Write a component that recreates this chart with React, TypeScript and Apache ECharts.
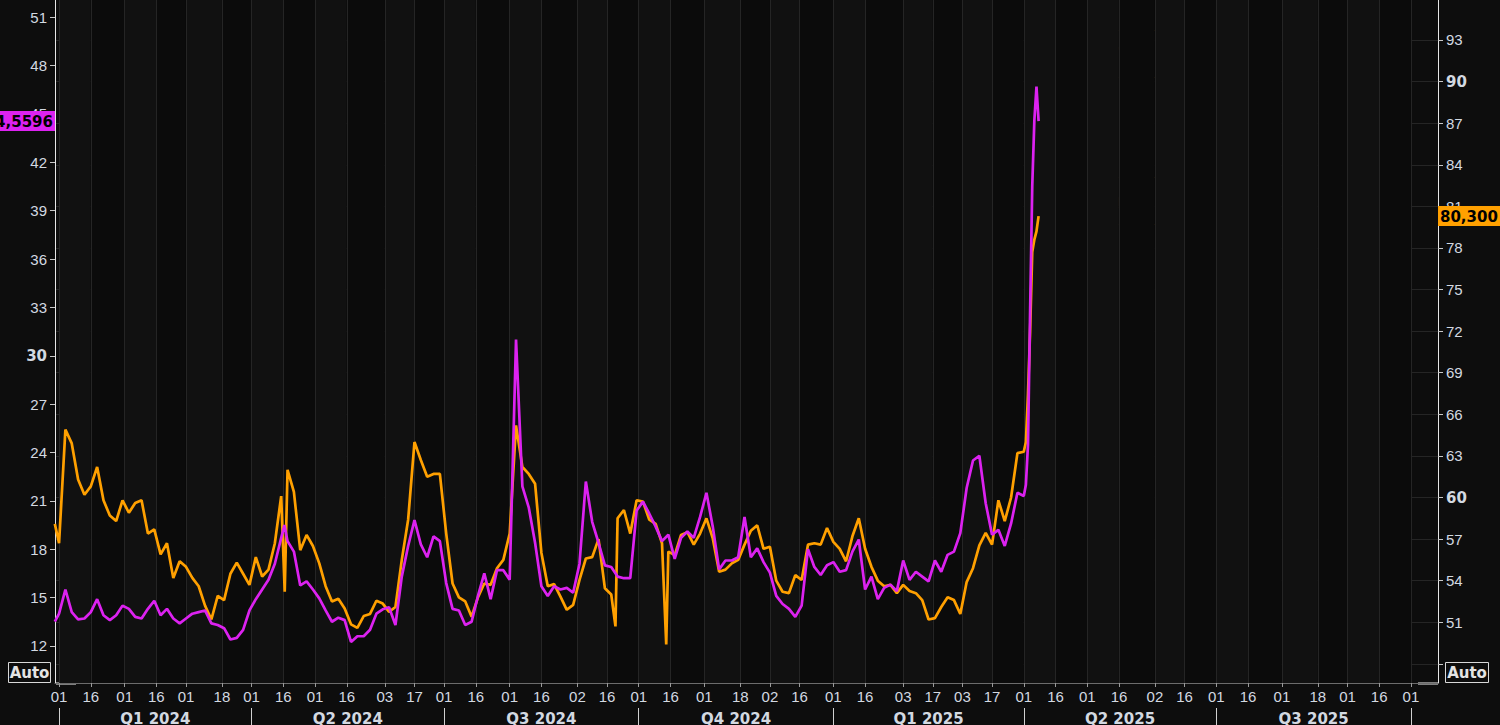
import React, { useEffect, useRef } from "react";
import * as echarts from "echarts";

// ---------- data ----------
const START_DATE = "2024-01-01";
const STEP_DAYS = 3;

// iTraxx main (right axis), one reading every STEP_DAYS from START_DATE
const itraxxMain = [
  56.7, 64.9, 63.9, 61.3, 60.2, 60.8, 62.2, 59.8, 58.7, 58.3,
  59.8, 58.9, 59.6, 59.8, 57.4, 57.7, 55.9, 56.7, 54.2, 55.4,
  55.0, 54.2, 53.6, 52.2, 51.2, 52.9, 52.6, 54.5, 55.3, 54.5,
  53.7, 55.7, 54.3, 54.8, 56.7, 60.1, 62.0, 60.4, 56.2, 57.3,
  56.5, 55.25, 53.6, 52.5, 52.7, 52.0, 50.85, 50.6, 51.45, 51.6,
  52.55, 52.35, 51.75, 52.1, 55.5, 58.4, 64.0, 62.7, 61.5, 61.7,
  61.7, 57.4, 53.8, 52.8, 52.5, 51.4, 52.8, 53.8, 53.7, 54.9,
  55.5, 57.4, 65.2, 62.2, 61.7, 61.0, 56.0, 53.6, 53.75, 52.85,
  51.9, 52.25, 54.05, 55.6, 55.7, 57.0, 53.45, 53.0, 58.5, 59.1,
  57.4, 59.8, 59.7, 58.4, 58.1, 56.7, 56.1, 55.85, 57.3, 57.5,
  56.6, 57.4, 58.5, 57.05, 54.65, 54.8, 55.25, 55.5, 56.6, 57.6,
  58.0, 56.3, 56.45, 54.0, 53.2, 53.1, 54.4, 54.05, 56.6, 56.7,
  56.6, 57.8, 56.8, 56.3, 55.4, 57.2, 58.5, 56.3, 55.0, 54.0,
  53.6, 53.7, 53.1, 53.7, 53.25, 53.1, 52.6, 51.2, 51.3, 52.1,
  52.8, 52.6, 51.6, 53.9, 54.9, 56.55, 57.45, 56.6, 59.8, 58.3,
  60.0, 63.2, 63.3,
];

// V2X (left axis), same dates
const v2x = [
  14.0, 15.5, 14.1, 13.65, 13.7, 14.1, 14.9, 13.9, 13.6, 13.9,
  14.5, 14.3, 13.8, 13.7, 14.3, 14.8, 13.9, 14.3, 13.7, 13.4,
  13.7, 14.0, 14.1, 14.2, 13.4, 13.3, 13.1, 12.4, 12.5, 13.0,
  14.2, 14.9, 15.5, 16.1, 17.1, 18.7, 18.5, 17.85, 15.75, 16.0,
  15.5, 14.95, 14.2, 13.5, 13.75, 13.6, 12.25, 12.6, 12.6, 13.0,
  14.0, 14.27, 14.4, 13.3, 16.3, 18.2, 19.8, 18.3, 17.5, 18.8,
  18.5, 15.9, 14.3, 14.2, 13.3, 13.5, 15.1, 16.5, 14.9, 16.7,
  16.7, 16.1, 31.0, 21.9, 20.6, 18.4, 15.7, 15.1, 15.7, 15.5,
  15.6, 15.3, 17.1, 22.2, 19.7, 18.4, 17.0, 16.9, 16.3, 16.2,
  16.2, 20.4, 20.95, 20.2, 19.4, 18.5, 18.9, 17.4, 18.7, 19.1,
  18.7, 20.0, 21.5, 19.4, 16.75, 17.3, 17.3, 17.5, 20.0, 17.5,
  18.05, 17.2, 16.55, 15.1, 14.6, 14.3, 13.8, 14.5, 18.0, 16.9,
  16.4, 17.0, 17.2, 16.6, 16.7, 17.85, 18.6, 15.5, 16.3, 14.9,
  15.6, 15.8, 15.4, 17.3, 16.1, 16.6, 16.3, 16.0, 17.3, 16.6,
  17.65, 17.85, 19.0, 21.8, 23.5, 23.8, 20.85, 18.9, 19.2, 18.2,
  19.6, 21.5, 21.3,
];

// single-day readings off the regular step (spikes, start and final days)
const itraxxExtra: [string, number][] = [
  ["2023-12-30", 58.1],
  ["2024-04-16T16:00Z", 53.2],
  ["2024-09-20", 50.7],
  ["2024-10-14", 49.4],
  ["2025-04-02", 64.0],
  ["2025-04-03", 67.5],
  ["2025-04-04", 72.0],
  ["2025-04-05", 77.7],
  ["2025-04-06", 78.6],
  ["2025-04-07", 79.2],
  ["2025-04-08", 80.3],
];
const v2xExtra: [string, number][] = [
  ["2023-12-30", 13.5],
  ["2024-04-16T12:00Z", 19.5],
  ["2025-04-02", 22.0],
  ["2025-04-03", 24.5],
  ["2025-04-04", 32.8],
  ["2025-04-05", 40.5],
  ["2025-04-06", 44.6],
  ["2025-04-07", 46.7],
  ["2025-04-08", 44.5596],
];

const V2X_LAST = 44.5596;
const ITRAXX_LAST = 80.3;

const dayTicks = [
  "2024-01-01", "2024-01-16", "2024-02-01", "2024-02-16", "2024-03-01", "2024-03-18",
  "2024-04-01", "2024-04-16", "2024-05-01", "2024-05-16", "2024-06-03", "2024-06-17",
  "2024-07-01", "2024-07-16", "2024-08-01", "2024-08-16", "2024-09-02", "2024-09-16",
  "2024-10-01", "2024-10-16", "2024-11-01", "2024-11-18", "2024-12-02", "2024-12-16",
  "2025-01-01", "2025-01-16", "2025-02-03", "2025-02-17", "2025-03-03", "2025-03-17",
  "2025-04-01", "2025-04-16", "2025-05-01", "2025-05-16", "2025-06-02", "2025-06-16",
  "2025-07-01", "2025-07-16", "2025-08-01", "2025-08-18", "2025-09-01", "2025-09-16",
  "2025-10-01",
];
const quarterStarts = [
  "2024-01-01", "2024-04-01", "2024-07-01", "2024-10-01",
  "2025-01-01", "2025-04-01", "2025-07-01", "2025-10-01",
];
const quarterNames = ["Q1 2024", "Q2 2024", "Q3 2024", "Q4 2024", "Q1 2025", "Q2 2025", "Q3 2025"];

const leftTicks = [12, 15, 18, 21, 24, 27, 30, 33, 36, 39, 42, 45, 48, 51];
const leftBold = [30];
const rightTicks = [48, 51, 54, 57, 60, 63, 66, 69, 72, 75, 78, 81, 84, 87, 90, 93];
const rightLabels = [51, 54, 57, 60, 63, 66, 69, 72, 75, 78, 81, 84, 87, 90, 93];
const rightBold = [60, 90];

const X_MIN = "2023-12-30T02:00Z";
const X_MAX = "2025-10-13T19:00Z";
const LEFT_MIN = 9.7;
const LEFT_MAX = 52.07;
const RIGHT_MIN = 46.62;
const RIGHT_MAX = 95.885;

// ---------- styles ----------
const BG = "#0d0d0d";
const ORANGE = "#ffa000";
const MAGENTA = "#dc22f0";
const TXT = "#d3d9e1";
const GRID = "#252525";
const FONT = "'Liberation Sans', Arial, sans-serif";
const BFONT = "'DejaVu Sans', Verdana, sans-serif";

const DAY = 86400000;

function build(grid: number[], extra: [string, number][]) {
  const t0 = Date.parse(START_DATE);
  const pts: [number, number][] = grid.map((v, i) => [t0 + i * STEP_DAYS * DAY, v]);
  extra.forEach(([d, v]) => pts.push([Date.parse(d), v]));
  pts.sort((a, b) => a[0] - b[0]);
  return pts;
}

function comma(v: number, digits: number) {
  return v.toFixed(digits).replace(".", ",");
}

function near(a: number, b: number) {
  return Math.abs(a - b) < 1e-6;
}

export default function App() {
  const ref = useRef<HTMLDivElement>(null);

  useEffect(() => {
    document.body.style.margin = "0";
    document.body.style.background = BG;
    const chart = echarts.init(ref.current!, null, { renderer: "svg" });

    const qStartsT = quarterStarts.map((d) => Date.parse(d));
    const qMids = quarterNames.map((_, i) => (qStartsT[i] + qStartsT[i + 1]) / 2);
    const dayTicksT = dayTicks.map((d) => Date.parse(d));
    const xMin = Date.parse(X_MIN);
    const xMax = Date.parse(X_MAX);

    const option: any = {
      animation: false,
      backgroundColor: BG,
      grid: { left: 55, right: 62, top: 0, bottom: 42, outerBoundsMode: "none", containLabel: false },
      xAxis: [
        {
          type: "value",
          min: xMin,
          max: xMax,
          position: "bottom",
          axisLine: { show: true, onZero: false, lineStyle: { color: "#6c6c6c", width: 1 } },
          axisTick: { show: true, customValues: dayTicksT, length: 4, lineStyle: { color: "#9a9a9a" } },
          axisLabel: {
            show: true,
            customValues: dayTicksT,
            margin: 6,
            color: TXT,
            fontFamily: FONT,
            fontSize: 15,
            formatter: (v: number) => String(new Date(v).getUTCDate()).padStart(2, "0"),
          },
          splitLine: { show: true, lineStyle: { color: GRID, width: 1 } },
          splitArea: { show: true, areaStyle: { color: ["#111111", "#0b0b0b"] } },
        },
        {
          type: "value",
          min: xMin,
          max: xMax,
          position: "bottom",
          offset: 25,
          axisLine: { show: false, onZero: false },
          axisTick: { show: true, customValues: qStartsT, length: 17, lineStyle: { color: "#d0d0d0" } },
          axisLabel: {
            show: true,
            customValues: qMids,
            margin: 3,
            color: TXT,
            fontFamily: BFONT,
            fontWeight: "bold",
            fontSize: 15,
            formatter: (v: number) => {
              const i = qMids.findIndex((m) => Math.abs(m - v) < DAY);
              return i >= 0 ? quarterNames[i] : "";
            },
          },
          splitLine: { show: false },
        },
      ],
      yAxis: [
        {
          type: "value",
          position: "left",
          min: LEFT_MIN,
          max: LEFT_MAX,
          axisLine: { show: true, onZero: false, lineStyle: { color: "#e6e6e6", width: 1 } },
          axisTick: { show: true, customValues: leftTicks, length: 5, lineStyle: { color: "#c8c8c8" } },
          axisLabel: {
            show: true,
            customValues: [...leftTicks, V2X_LAST],
            margin: 0,
            formatter: (v: number) =>
              near(v, V2X_LAST)
                ? `{hl|${comma(V2X_LAST, 4)}}`
                : leftBold.includes(v)
                ? `{bp|${v}}`
                : `{np|${v}}`,
            rich: {
              np: { fontFamily: FONT, fontSize: 15, color: TXT, padding: [0, 8, 0, 0] },
              bp: { fontFamily: BFONT, fontSize: 15, fontWeight: "bold", color: TXT, padding: [0, 8, 0, 0] },
              hl: {
                fontFamily: BFONT,
                fontSize: 15,
                fontWeight: "bold",
                color: "#000000",
                backgroundColor: MAGENTA,
                padding: [3, 2, 2, 4],
              },
            },
          },
          splitLine: { show: false },
        },
        {
          type: "value",
          position: "right",
          min: RIGHT_MIN,
          max: RIGHT_MAX,
          axisLine: { show: true, onZero: false, lineStyle: { color: "#e6e6e6", width: 1 } },
          axisTick: { show: true, customValues: rightTicks, length: 5, lineStyle: { color: "#c8c8c8" } },
          axisLabel: {
            show: true,
            customValues: [...rightLabels, ITRAXX_LAST],
            margin: 0,
            formatter: (v: number) =>
              near(v, ITRAXX_LAST)
                ? `{hl|${comma(ITRAXX_LAST, 3)}}`
                : rightBold.includes(v)
                ? `{bp|${v}}`
                : `{np|${v}}`,
            rich: {
              np: { fontFamily: FONT, fontSize: 15, color: TXT, padding: [0, 0, 0, 8] },
              bp: { fontFamily: BFONT, fontSize: 15, fontWeight: "bold", color: TXT, padding: [0, 0, 0, 8] },
              hl: {
                fontFamily: BFONT,
                fontSize: 15,
                fontWeight: "bold",
                color: "#000000",
                backgroundColor: ORANGE,
                padding: [3, 4, 2, 2],
              },
            },
          },
          splitLine: { show: true, lineStyle: { color: GRID, width: 1 } },
        },
      ],
      series: [
        {
          name: "iTraxx main",
          type: "line",
          xAxisIndex: 0,
          yAxisIndex: 1,
          data: build(itraxxMain, itraxxExtra),
          showSymbol: false,
          symbol: "none",
          lineStyle: { color: ORANGE, width: 2.7 },
          itemStyle: { color: ORANGE },
        },
        {
          name: "V2X",
          type: "line",
          xAxisIndex: 0,
          yAxisIndex: 0,
          data: build(v2x, v2xExtra),
          showSymbol: false,
          symbol: "none",
          lineStyle: { color: MAGENTA, width: 2.7 },
          itemStyle: { color: MAGENTA },
        },
      ],
      graphic: [
        {
          type: "rect",
          shape: { x: 8.5, y: 662.5, width: 42, height: 20 },
          style: { fill: "none", stroke: "#d8d8d8", lineWidth: 1 },
        },
        {
          type: "text",
          x: 29.5,
          y: 673,
          style: {
            text: "Auto",
            fill: "#e4e4e4",
            font: `bold 15px ${BFONT}`,
            textAlign: "center",
            textVerticalAlign: "middle",
          },
        },
        {
          type: "rect",
          shape: { x: 1445.5, y: 662.5, width: 43, height: 20 },
          style: { fill: "none", stroke: "#d8d8d8", lineWidth: 1 },
        },
        {
          type: "text",
          x: 1467,
          y: 673,
          style: {
            text: "Auto",
            fill: "#e4e4e4",
            font: `bold 15px ${BFONT}`,
            textAlign: "center",
            textVerticalAlign: "middle",
          },
        },
        { type: "line", shape: { x1: 56, y1: 683.5, x2: 76, y2: 683.5 }, style: { stroke: "#f0f0f0", lineWidth: 2 } },
        { type: "line", shape: { x1: 1418, y1: 683.5, x2: 1438, y2: 683.5 }, style: { stroke: "#f0f0f0", lineWidth: 2 } },
        {
          type: "polyline",
          shape: { points: [[1072, 79.5], [1083, 79.5], [1094.5, 77.5]] },
          style: { stroke: ORANGE, lineWidth: 1, fill: "none" },
        },
        {
          type: "rect",
          shape: { x: 1094.5, y: 30.5, width: 61, height: 47 },
          style: { fill: "#0f0f0f", stroke: ORANGE, lineWidth: 1 },
        },
        {
          type: "text",
          x: 1125,
          y: 54,
          style: {
            text: "V2X",
            fill: ORANGE,
            font: `20px ${FONT}`,
            textAlign: "center",
            textVerticalAlign: "middle",
          },
        },
        {
          type: "line",
          shape: { x1: 1079, y1: 232.5, x2: 1085.5, y2: 224.5 },
          style: { stroke: ORANGE, lineWidth: 1 },
        },
        {
          type: "rect",
          shape: { x: 1085.5, y: 177.5, width: 131, height: 47 },
          style: { fill: "#0f0f0f", stroke: ORANGE, lineWidth: 1 },
        },
        {
          type: "text",
          x: 1151,
          y: 201,
          style: {
            text: "iTraxx main",
            fill: ORANGE,
            font: `20px ${FONT}`,
            textAlign: "center",
            textVerticalAlign: "middle",
          },
        },
      ],
    };

    chart.setOption(option);
    return () => chart.dispose();
  }, []);

  return <div ref={ref} style={{ width: 1500, height: 725 }} />;
}
